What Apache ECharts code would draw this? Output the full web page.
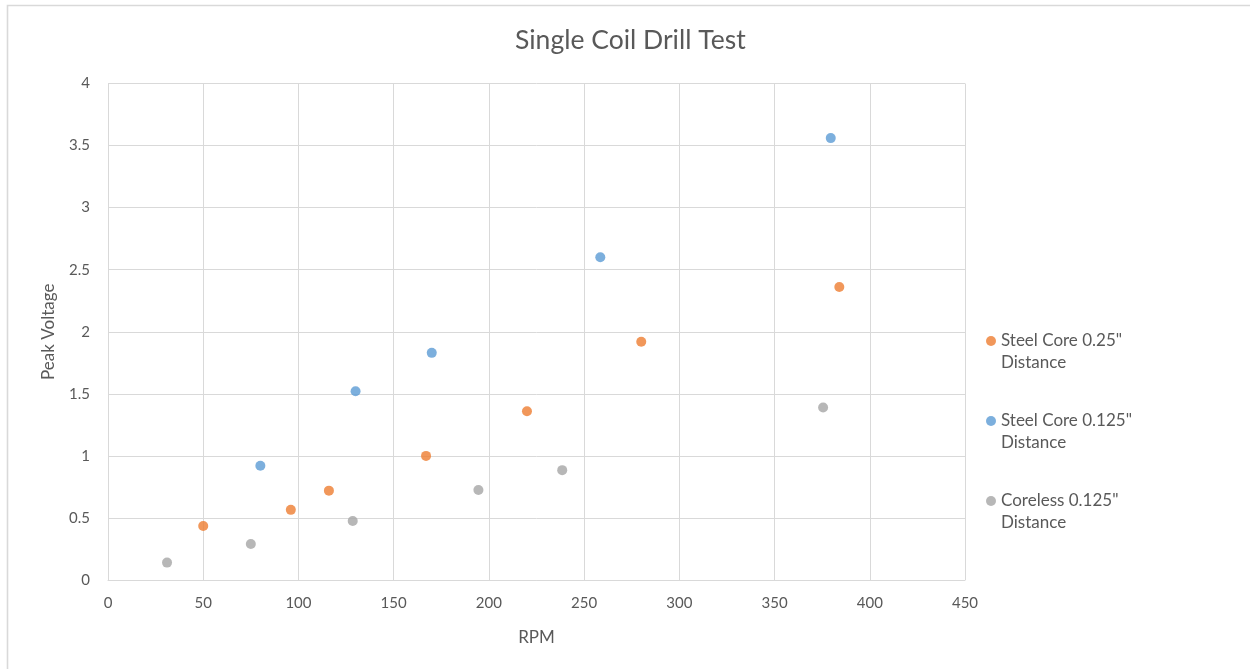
<!DOCTYPE html>
<html>
<head>
<meta charset="utf-8">
<title>Single Coil Drill Test</title>
<script src="https://cdn.jsdelivr.net/npm/echarts@6/dist/echarts.min.js"></script>
<style>
  html, body { margin: 0; padding: 0; background: #ffffff; }
  #chart { width: 1250px; height: 669px; }
</style>
</head>
<body>
<div id="chart"></div>
<script>
// Peak voltage measured against drill speed (RPM)
const steel025Rpm     = [50, 96, 116, 167, 220, 280, 384];
const steel025Voltage = [0.435, 0.565, 0.72, 1.0, 1.36, 1.92, 2.36];

const steel0125Rpm     = [80, 130, 170, 258.5, 379.5];
const steel0125Voltage = [0.92, 1.52, 1.83, 2.6, 3.56];

const coreless0125Rpm     = [31, 75, 128.5, 194.5, 238.5, 375.5];
const coreless0125Voltage = [0.14, 0.29, 0.475, 0.725, 0.885, 1.39];

const seriesNames = ['Steel Core 0.25" Distance', 'Steel Core 0.125" Distance', 'Coreless 0.125" Distance'];
const seriesColors = ['#ED7D31', '#5B9BD5', '#A5A5A5'];

const pairs = (xs, ys) => xs.map((x, i) => [x, ys[i]]);
const seriesData = [
  pairs(steel025Rpm, steel025Voltage),
  pairs(steel0125Rpm, steel0125Voltage),
  pairs(coreless0125Rpm, coreless0125Voltage)
];

const FONT = 'Lato, "Open Sans", sans-serif';
const TEXT = '#595959';
const GRID = '#D9D9D9';

const chart = echarts.init(document.getElementById('chart'), null, { renderer: 'canvas' });
chart.setOption({
  animation: false,
  backgroundColor: '#ffffff',
  textStyle: { fontFamily: FONT },
  title: {
    text: 'Single Coil Drill Test',
    left: 510, top: 22,
    textStyle: { color: TEXT, fontSize: 26.5, fontWeight: 'normal', fontFamily: FONT }
  },
  graphic: [{
    type: 'rect', silent: true, z: -1,
    shape: { x: 7.5, y: 5.5, width: 1400, height: 800 },
    style: { fill: 'none', stroke: GRID, lineWidth: 1.6 }
  }],
  grid: { left: 108, right: 285, top: 83.5, bottom: 89, containLabel: false },
  legend: {
    orient: 'vertical', left: 986, top: 308, padding: 0,
    itemWidth: 10, itemHeight: 10, itemGap: 14, icon: 'circle',
    textStyle: { color: TEXT, fontSize: 17, fontFamily: FONT, lineHeight: 22 },
    itemStyle: { borderWidth: 0 },
    // a blank leading line keeps the marker level with the first line of the name
    formatter: name => '\n' + name.replace(' Distance', '\nDistance'),
    data: seriesNames
  },
  xAxis: {
    type: 'value', min: 0, max: 450, interval: 50,
    name: 'RPM', nameLocation: 'middle', nameGap: 49,
    nameTextStyle: { color: TEXT, fontSize: 17, fontFamily: FONT },
    axisLine: { show: true, lineStyle: { color: GRID, width: 1 } },
    axisTick: { show: false },
    axisLabel: { color: TEXT, fontSize: 15, margin: 16, fontFamily: FONT },
    splitLine: { show: true, lineStyle: { color: GRID, width: 1 } }
  },
  yAxis: {
    type: 'value', min: 0, max: 4, interval: 0.5,
    name: 'Peak Voltage', nameLocation: 'middle', nameGap: 51, nameRotate: 90,
    nameTextStyle: { color: TEXT, fontSize: 17, fontFamily: FONT },
    axisLine: { show: true, lineStyle: { color: GRID, width: 1 } },
    axisTick: { show: false },
    axisLabel: { color: TEXT, fontSize: 15, margin: 18, fontFamily: FONT },
    splitLine: { show: true, lineStyle: { color: GRID, width: 1 } }
  },
  series: seriesNames.map((name, i) => ({
    name: name,
    type: 'scatter',
    symbol: 'circle',
    symbolSize: 10,
    itemStyle: { color: seriesColors[i] },
    data: seriesData[i]
  }))
});
</script>
</body>
</html>
